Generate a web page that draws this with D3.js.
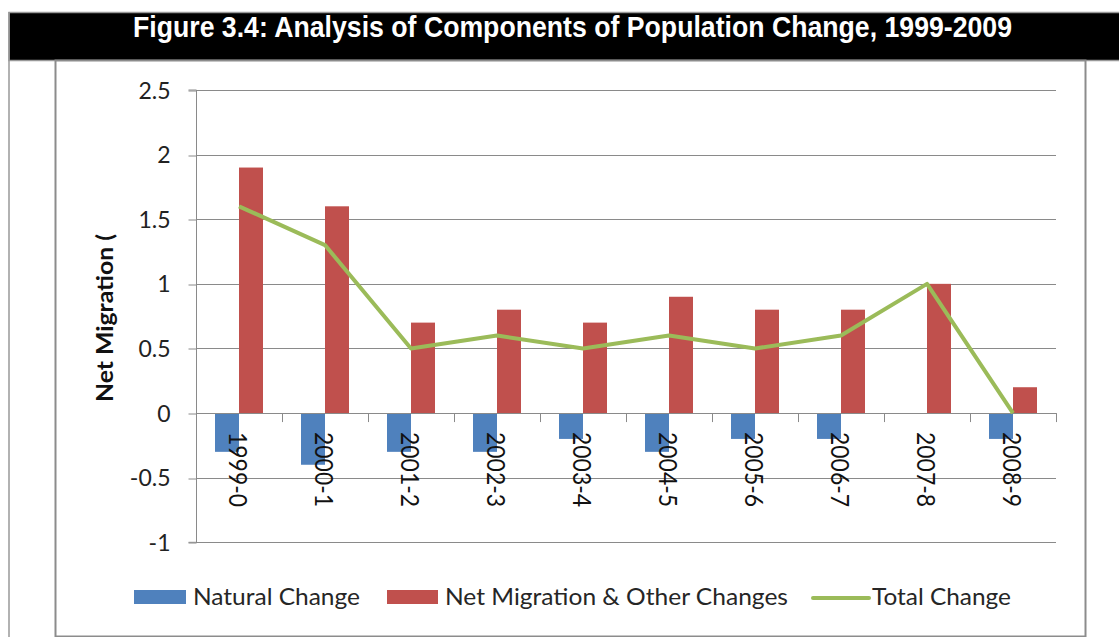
<!DOCTYPE html>
<html>
<head>
<meta charset="utf-8">
<script src="https://cdn.jsdelivr.net/npm/d3@7"></script>
<style>
  html, body { margin: 0; padding: 0; background: #fff; }
  svg { display: block; }
</style>
</head>
<body>
<svg id="chart" width="1119" height="637"></svg>
<script>
const titleText = "Figure 3.4: Analysis of Components of Population Change, 1999-2009";
const yAxisTitle = "Net Migration (";
const categories = ["1999-0","2000-1","2001-2","2002-3","2003-4","2004-5","2005-6","2006-7","2007-8","2008-9"];
const naturalChange = [-0.3, -0.4, -0.3, -0.3, -0.2, -0.3, -0.2, -0.2, 0, -0.2];
const netMigration = [1.9, 1.6, 0.7, 0.8, 0.7, 0.9, 0.8, 0.8, 1.0, 0.2];
const totalChange = [1.6, 1.3, 0.5, 0.6, 0.5, 0.6, 0.5, 0.6, 1.0, 0.0];
const yTicks = [-1, -0.5, 0, 0.5, 1, 1.5, 2, 2.5];
const seriesNames = ["Natural Change", "Net Migration & Other Changes", "Total Change"];
const seriesColors = ["#4F81BD", "#C0504D", "#9BBB59"];

const svg = d3.select("#chart");
const font = "Lato, 'Open Sans', sans-serif";

// Page frame + title bar
svg.append("rect").attr("x", 9).attr("y", 12.5).attr("width", 1115).attr("height", 48)
  .attr("fill", "#000").attr("stroke", "#999").attr("stroke-width", 1.5);
svg.append("line").attr("x1", 9).attr("x2", 9).attr("y1", 12).attr("y2", 637)
  .attr("stroke", "#999").attr("stroke-width", 1.5);
svg.append("text").attr("x", 133).attr("y", 36.7)
  .attr("fill", "#fff").attr("font-family", "'Liberation Sans', Arial, sans-serif")
  .attr("font-weight", "bold").attr("font-size", 29)
  .attr("textLength", 879).attr("lengthAdjust", "spacingAndGlyphs")
  .text(titleText);

// Chart frame
svg.append("rect").attr("x", 55.5).attr("y", 60.5).attr("width", 1030).attr("height", 576)
  .attr("fill", "#fff").attr("stroke", "#8c8c8c").attr("stroke-width", 2);

const left = 196, right = 1056;
const y = d3.scaleLinear().domain([-1, 2.5]).range([542.3, 90]);
const x = d3.scaleBand().domain(categories).range([left, right])
  .paddingInner(0.442).paddingOuter(0.221);
const xs = d3.scaleBand().domain([0, 1]).range([0, x.bandwidth()]);

const gridColor = "#8a8a8a";

// Gridlines
svg.append("g").selectAll("line").data(yTicks).join("line")
  .attr("x1", left).attr("x2", right)
  .attr("y1", d => Math.round(y(d)) + 0.5).attr("y2", d => Math.round(y(d)) + 0.5)
  .attr("stroke", gridColor).attr("stroke-width", 1);

// Y axis
const yAxis = d3.axisLeft(y).tickValues(yTicks).tickSize(8).tickFormat(d => String(d));
const gy = svg.append("g").attr("transform", `translate(${left + 0.5},0)`).call(yAxis);
gy.select(".domain").attr("stroke", gridColor).attr("d", `M-8,${y(2.5)}H0V${y(-1)}H-8`);
gy.selectAll(".tick line").attr("stroke", gridColor)
  .attr("transform", d => `translate(0,${Math.round(y(d)) + 0.5 - y(d)})`);
gy.selectAll(".tick text").attr("font-family", font).attr("font-size", 23)
  .attr("fill", "#222").attr("x", -26).attr("dy", "0.35em");

// Bars
const barG = svg.append("g");
barG.selectAll("rect.nat").data(categories).join("rect").attr("class", "nat")
  .attr("x", (d) => x(d) + xs(0))
  .attr("width", xs.bandwidth())
  .attr("y", (d, i) => y(Math.max(0, naturalChange[i])))
  .attr("height", (d, i) => Math.abs(y(naturalChange[i]) - y(0)))
  .attr("fill", seriesColors[0]);
barG.selectAll("rect.mig").data(categories).join("rect").attr("class", "mig")
  .attr("x", (d) => x(d) + xs(1))
  .attr("width", xs.bandwidth())
  .attr("y", (d, i) => y(Math.max(0, netMigration[i])))
  .attr("height", (d, i) => Math.abs(y(netMigration[i]) - y(0)))
  .attr("fill", seriesColors[1]);

// X axis ticks at category boundaries
const step = x.step();
const boundaries = d3.range(categories.length + 1).map(i => left + i * step);
svg.append("g").selectAll("line").data(boundaries).join("line")
  .attr("x1", d => Math.round(d) + 0.5).attr("x2", d => Math.round(d) + 0.5)
  .attr("y1", y(0)).attr("y2", y(0) + 9)
  .attr("stroke", gridColor);
svg.append("line").attr("x1", left).attr("x2", right)
  .attr("y1", Math.round(y(0)) + 0.5).attr("y2", Math.round(y(0)) + 0.5)
  .attr("stroke", gridColor);

// Total change line
const line = d3.line().x((d, i) => x(categories[i]) + x.bandwidth() / 2).y(d => y(d));
svg.append("path").datum(totalChange).attr("d", line)
  .attr("fill", "none").attr("stroke", seriesColors[2]).attr("stroke-width", 4)
  .attr("stroke-linejoin", "round");

// X labels (rotated)
svg.append("g").selectAll("text").data(categories).join("text")
  .attr("transform", d => `translate(${x(d) + x.bandwidth() / 2 - 1},432) rotate(90)`)
  .attr("dy", "0.36em")
  .attr("font-family", font).attr("font-size", 25).attr("fill", "#111")
  .attr("textLength", 75).attr("lengthAdjust", "spacingAndGlyphs")
  .text(d => d);

// Y axis title
svg.append("text").attr("transform", "translate(113,402) rotate(-90)")
  .attr("font-family", font).attr("font-weight", "bold").attr("font-size", 23.5)
  .attr("fill", "#111")
  .attr("textLength", 168).attr("lengthAdjust", "spacingAndGlyphs")
  .text(yAxisTitle);

// Legend
const legend = svg.append("g").attr("font-family", font).attr("font-size", 24).attr("fill", "#262626");
const legendItems = [
  { sx: 134, sw: 52, tx: 193, tw: 167, type: "rect" },
  { sx: 387, sw: 51, tx: 445, tw: 343, type: "rect" },
  { sx: 813, sw: 56, tx: 872, tw: 139, type: "line" }
];
legendItems.forEach((it, i) => {
  if (it.type === "rect") {
    legend.append("rect").attr("x", it.sx).attr("y", 590).attr("width", it.sw).attr("height", 14)
      .attr("fill", seriesColors[i]);
  } else {
    legend.append("line").attr("x1", it.sx).attr("x2", it.sx + it.sw).attr("y1", 598).attr("y2", 598)
      .attr("stroke", seriesColors[i]).attr("stroke-width", 4).attr("stroke-linecap", "round");
  }
  legend.append("text").attr("x", it.tx).attr("y", 605)
    .attr("textLength", it.tw).attr("lengthAdjust", "spacingAndGlyphs")
    .text(seriesNames[i]);
});
</script>
</body>
</html>
